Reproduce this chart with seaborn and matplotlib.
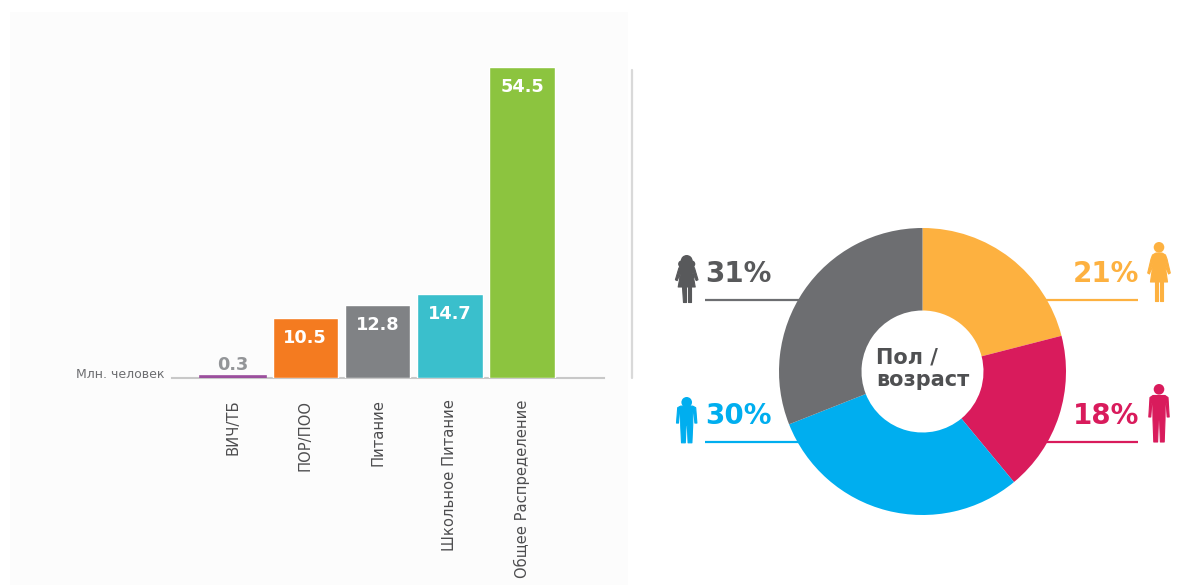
import matplotlib
matplotlib.use("Agg")
import matplotlib.pyplot as plt
import seaborn as sns
import pandas as pd
from matplotlib.patches import Circle, Polygon, Rectangle

# Data
programmes = ["ВИЧ/ТБ", "ПОР/ПОО", "Питание", "Школьное Питание", "Общее Распределение"]
beneficiaries = [0.3, 10.5, 12.8, 14.7, 54.5]
bar_colors = ["#9b4f9d", "#f47b20", "#808285", "#3abfcc", "#8cc43f"]

groups = ["Женщины", "Мужчины", "Мальчики", "Девочки"]
group_shares = [21, 18, 30, 31]
group_colors = ["#fdb140", "#d91b5c", "#00aeef", "#6d6e71"]

W, H = 1200, 585
FONT = "DejaVu Sans"

sns.set_theme(style="white")
plt.rcParams["font.family"] = [FONT]

fig = plt.figure(figsize=(W / 100, H / 100), dpi=100, facecolor="white")


def axes_px(x0, y0, x1, y1, **kw):
    # axes from pixel box, y measured from the top of the image
    return fig.add_axes([x0 / W, 1 - y1 / H, (x1 - x0) / W, (y1 - y0) / H], **kw)


# Background layer in pixel coords
bg = axes_px(0, 0, W, H, zorder=0)
bg.set_xlim(0, W)
bg.set_ylim(H, 0)
bg.axis("off")
bg.add_patch(Rectangle((10, 12), 618, 573, color="#fcfcfc", lw=0))
bg.plot([632, 632], [70, 378], color="#d9d9d9", lw=1.6)

### BARS
px_per_unit = 311 / 54.5
step = 72.25
ax = axes_px(172, 12, 604, 378, zorder=1)
ax.patch.set_alpha(0)
df = pd.DataFrame({"programme": programmes, "value": beneficiaries})
sns.barplot(data=df, x="programme", y="value", hue="programme", palette=bar_colors,
            legend=False, width=65.5 / step, saturation=1, ax=ax)
ax.set_xlim((172 - 233) / step, (604 - 233) / step)
ax.set_ylim(0, 366 / px_per_unit)
ax.set_xlabel("")
ax.set_ylabel("")
ax.set_yticks([])
ax.set_xticks(range(len(programmes)))
ax.set_xticklabels(programmes, rotation=90, fontsize=10.6, color="#4d4d4f", va="top", ha="center")
ax.tick_params(axis="x", length=0, pad=15.5)
for side in ["top", "left", "right"]:
    ax.spines[side].set_visible(False)
ax.spines["bottom"].set_color("#c8c8c8")
ax.spines["bottom"].set_linewidth(1.5)
ax.spines["bottom"].set_zorder(0.5)

# the 0.3 bar is thinner than a line, thicken it so it stays visible
ax.patches[0].set_edgecolor(bar_colors[0])
ax.patches[0].set_linewidth(1.2)

for i, v in enumerate(beneficiaries):
    inside = v > 5
    ax.annotate(f"{v}", xy=(i, v), xytext=(0, -14.5 if inside else 8), textcoords="offset points",
                ha="center", va="center", fontsize=12.8, fontweight="bold",
                color="white" if inside else "#939598")

bg.text(165, 375, "Млн. человек", ha="right", va="center", fontsize=9, color="#6d6e71")

### DONUT
pie_ax = axes_px(779, 228, 1066, 515, zorder=2)
pie_ax.pie(group_shares, colors=group_colors, startangle=90, counterclock=False, radius=1,
           wedgeprops={"width": 1 - 61 / 143.5, "linewidth": 0})
pie_ax.set_xlim(-1, 1)
pie_ax.set_ylim(-1, 1)
pie_ax.text(0, 0.02, "Пол /\nвозраст", ha="center", va="center", multialignment="left", fontsize=15,
            fontweight="bold", color="#4f5052", linespacing=1.2)

# Leader lines and percentages
labels = [(1138, 1046, 300, 1139, "right", 0), (1138, 1046, 442, 1139, "right", 1),
          (705, 800, 442, 705, "left", 2), (705, 800, 300, 705, "left", 3)]
for x0, x1, y, tx, ha, i in labels:
    bg.plot([x0, x1], [y, y], color=group_colors[i], lw=1.6, solid_capstyle="butt")
    text_color = "#58595b" if i == 3 else group_colors[i]
    bg.text(tx, y - 26, f"{group_shares[i]}%", ha=ha, va="center", fontsize=20,
            fontweight="bold", color=text_color)


# Little people icons
def person(cx, top, sy, color, dress=False, hair=False):
    def add(points):
        pts = [(cx + px, top + py * sy) for px, py in points]
        bg.add_patch(Polygon(pts, closed=True, fc=color, ec=color, lw=0.8, joinstyle="round"))

    head_y = top + 5.3
    if dress:
        add([(-3, 11), (3, 11), (6.5, 13), (8, 17), (11.3, 31), (9.5, 32), (6, 22), (8.5, 40), (-8.5, 40),
             (-6, 22), (-9.5, 32), (-11.3, 31), (-8, 17), (-6.5, 13)])
        add([(-4.4, 40), (-1, 40), (-1, 59), (-4, 59)])
        add([(4.4, 40), (1, 40), (1, 59), (4, 59)])
    else:
        add([(-6, 11.5), (6, 11.5), (9, 13.5), (10.2, 33), (8.2, 33), (7.2, 19), (6.2, 19), (6, 36), (5.2, 58),
             (1.4, 58), (0.6, 36), (-0.6, 36), (-1.4, 58), (-5.2, 58), (-6, 36), (-6.2, 19), (-7.2, 19),
             (-8.2, 33), (-10.2, 33), (-9, 13.5)])
    if hair:
        head_y = top + 7
        bg.add_patch(Circle((cx, top + 6), 6, fc=color, lw=0))
        bg.add_patch(Circle((cx - 5, top + 9), 3.6, fc=color, lw=0))
        bg.add_patch(Circle((cx + 5, top + 9), 3.6, fc=color, lw=0))
    bg.add_patch(Circle((cx, head_y), 5.3, fc=color, lw=0))


person(1159, 242, 1.0, group_colors[0], dress=True)
person(1159, 384, 1.0, group_colors[1])
person(686.7, 397, 0.79, group_colors[2])
person(686.7, 255, 0.8, "#58595b", dress=True, hair=True)

fig.savefig("out.png", dpi=100)
plt.close(fig)
